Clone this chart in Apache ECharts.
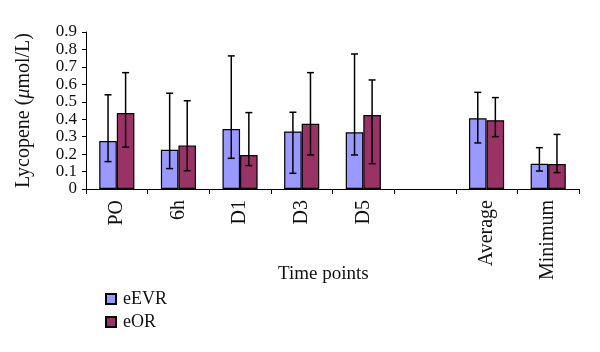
<!DOCTYPE html>
<html>
<head>
<meta charset="utf-8">
<script src="https://cdn.jsdelivr.net/npm/echarts@6/dist/echarts.min.js"></script>
<style>
  html, body { margin: 0; padding: 0; background: #fff; }
  #main { width: 600px; height: 352px; }
</style>
</head>
<body>
<div id="main"></div>
<script>
// categories, blank one is the gap between D5 and Average
var categories = ['PO', '6h', 'D1', 'D3', 'D5', '', 'Average', 'Minimum'];
var evrMean = [0.275, 0.225, 0.344, 0.33, 0.325, '-', 0.405, 0.145];
var evrLow  = [0.157, 0.117, 0.176, 0.09, 0.195, '-', 0.264, 0.103];
var evrHigh = [0.54, 0.549, 0.763, 0.44, 0.774, '-', 0.554, 0.237];
var orMean  = [0.436, 0.25, 0.195, 0.374, 0.424, '-', 0.394, 0.143];
var orLow   = [0.24, 0.105, 0.134, 0.195, 0.145, '-', 0.3, 0.094];
var orHigh  = [0.667, 0.506, 0.438, 0.667, 0.625, '-', 0.524, 0.313];
var yTicks = [0, 0.1, 0.2, 0.3, 0.4, 0.5, 0.6, 0.7, 0.8, 0.9];

var FONT = '"Liberation Serif", "DejaVu Serif", serif';
var TXT = '#111';
var CAT_GAP = 0.43;

var chart = echarts.init(document.getElementById('main'));

// error bars, side: -1 left bar, +1 right bar
function errData(low, high) {
    var out = [];
    for (var i = 0; i < categories.length; i++) {
        if (low[i] === '-') continue;
        out.push([i, low[i], high[i]]);
    }
    return out;
}
function errRender(side) {
    return function (params, api) {
        var band = api.size([1, 0])[0];
        var bw = band * (1 - CAT_GAP) / 2;
        var lo = api.coord([api.value(0), api.value(1)]);
        var hi = api.coord([api.value(0), api.value(2)]);
        var x = lo[0] + side * bw / 2;
        var cap = 3.5;
        var st = { stroke: '#000', lineWidth: 1.5 };
        return {
            type: 'group',
            children: [
                { type: 'line', shape: { x1: x, y1: lo[1], x2: x, y2: hi[1] }, style: st },
                { type: 'line', shape: { x1: x - cap, y1: hi[1], x2: x + cap, y2: hi[1] }, style: st },
                { type: 'line', shape: { x1: x - cap, y1: lo[1], x2: x + cap, y2: lo[1] }, style: st }
            ]
        };
    };
}

var option = {
    animation: false,
    textStyle: { fontFamily: FONT },
    grid: { left: 86, right: 21, top: 32, bottom: 163 },
    legend: {
        orient: 'vertical',
        left: 100,
        top: 285,
        itemWidth: 10,
        itemHeight: 10,
        itemGap: 5,
        icon: 'rect',
        textStyle: { fontFamily: FONT, fontSize: 18, color: TXT, padding: [0, 0, 0, 2] },
        data: ['eEVR', 'eOR']
    },
    graphic: [{
        type: 'text',
        left: 278,
        top: 265,
        style: { text: 'Time points', fontSize: 19, fill: TXT, fontFamily: FONT }
    }],
    xAxis: {
        type: 'category',
        data: categories,
        axisLine: { lineStyle: { color: '#000', width: 1 } },
        axisTick: { show: true, length: 5, lineStyle: { color: '#000' } },
        axisLabel: { rotate: 90, margin: 11, fontSize: 20, color: TXT, fontFamily: FONT }
    },
    yAxis: {
        type: 'value',
        min: 0,
        max: 0.9,
        interval: 0.1,
        axisLine: { show: true, lineStyle: { color: '#000', width: 1 } },
        axisTick: { show: true, length: 4, lineStyle: { color: '#000' } },
        splitLine: { show: false },
        axisLabel: {
            fontSize: 17, color: TXT, margin: 9, fontFamily: FONT,
            showMinLabel: true, showMaxLabel: true,
            formatter: function (v) {
                var t = yTicks.filter(function (a) { return Math.abs(a - v) < 1e-6; });
                return t.length ? String(t[0]) : '';
            }
        },
        name: 'Lycopene ({mu|μ}mol/L)',
        nameLocation: 'middle',
        nameGap: 52,
        nameMoveOverlap: false,
        nameTextStyle: {
            fontSize: 20, color: TXT, fontFamily: FONT,
            rich: { mu: { fontStyle: 'italic', fontSize: 20, color: TXT, fontFamily: FONT } }
        }
    },
    series: [
        {
            name: 'eEVR',
            type: 'bar',
            data: evrMean,
            barGap: '0%',
            barCategoryGap: (CAT_GAP * 100) + '%',
            itemStyle: { color: '#9999FF', borderColor: '#000', borderWidth: 1.2 }
        },
        {
            name: 'eOR',
            type: 'bar',
            data: orMean,
            barGap: '0%',
            barCategoryGap: (CAT_GAP * 100) + '%',
            itemStyle: { color: '#993366', borderColor: '#000', borderWidth: 1.2 }
        },
        {
            type: 'custom',
            renderItem: errRender(-1),
            data: errData(evrLow, evrHigh),
            z: 10,
            encode: { x: 0, y: [1, 2] }
        },
        {
            type: 'custom',
            renderItem: errRender(1),
            data: errData(orLow, orHigh),
            z: 10,
            encode: { x: 0, y: [1, 2] }
        }
    ]
};

chart.setOption(option);
</script>
</body>
</html>
